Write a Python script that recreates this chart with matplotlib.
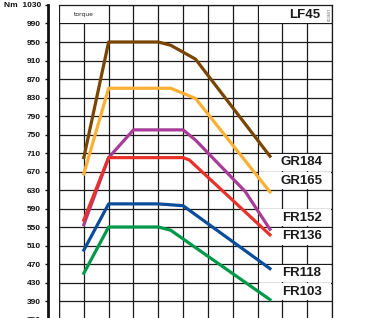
import matplotlib
matplotlib.use("Agg")
import matplotlib.pyplot as plt
from matplotlib.patches import Rectangle
import numpy as np

# engine speed (rpm) and torque (Nm)
rpm_gr184 = [800, 1000, 1400, 1500, 1700, 2300]
nm_gr184 = [700, 950, 950, 943, 913, 703]

rpm_gr165 = [800, 1000, 1500, 1700, 2300]
nm_gr165 = [665, 850, 850, 828, 626]

rpm_fr152 = [800, 1000, 1200, 1600, 1700, 2100, 2300]
nm_fr152 = [555, 700, 760, 760, 738, 627, 545]

rpm_fr136 = [800, 1000, 1600, 1650, 2300]
nm_fr136 = [565, 700, 700, 695, 533]

rpm_fr118 = [800, 1000, 1400, 1600, 2300]
nm_fr118 = [500, 600, 600, 596, 460]

rpm_fr103 = [800, 1000, 1400, 1500, 2300]
nm_fr103 = [450, 550, 550, 543, 393]

series = [
    ("GR184", rpm_gr184, nm_gr184, "#7a4500", 690),
    ("GR165", rpm_gr165, nm_gr165, "#fbb034", 650),
    ("FR152", rpm_fr152, nm_fr152, "#a83c98", 570),
    ("FR136", rpm_fr136, nm_fr136, "#e8312b", 530),
    ("FR118", rpm_fr118, nm_fr118, "#0a4d9c", 450),
    ("FR103", rpm_fr103, nm_fr103, "#00994a", 410),
]

y_ticks = list(range(350, 1031, 40))

fig = plt.figure(figsize=(3.87, 3.18), dpi=100)
ax = fig.add_axes([59 / 387, 0.98428 - 1.0472, 273 / 387, 1.0472])
ax.set_xlim(600, 2800)
ax.set_ylim(310, 1030)

# grid
ax.set_xticks(np.arange(600, 2801, 200))
ax.set_yticks(y_ticks)
ax.set_axisbelow(True)
ax.grid(True, color="#1a1a1a", linewidth=0.9)
ax.tick_params(axis="x", length=0, labelbottom=False)

# merged cells: hide some grid lines behind white boxes
ex, ey = 8, 1.6
cells = [(600, 990, 1030), (2200, 990, 1030), (2200, 670, 710), (2200, 630, 670),
         (2200, 550, 590), (2200, 510, 550), (2200, 430, 470), (2200, 390, 430)]
for x0, y0, y1 in cells:
    w = 400 if x0 == 600 else 600
    ax.add_patch(Rectangle((x0 + ex, y0 + ey), w - 2 * ex, y1 - y0 - 2 * ey,
                           facecolor="white", edgecolor="none", zorder=1))

for name, x, y, c, ylab in series:
    ax.plot(x, y, color=c, linewidth=2.3, zorder=3)
    ax.text(2556, ylab, name, ha="center", va="center", fontsize=9.5,
            fontweight="bold", family="Liberation Sans", color="#1a1a1a", zorder=4)

ax.text(800, 1010, "torque", ha="center", va="center", fontsize=4.3, color="#222222")
ax.text(2582, 1009, "LF45", ha="center", va="center", fontsize=9.5,
        fontweight="bold", family="Liberation Sans", color="#1a1a1a")
ax.text(2784, 1011, "000607", ha="center", va="center", fontsize=2.5,
        rotation=90, color="#555555")

# frame
for s in ["top", "right"]:
    ax.spines[s].set_color("#1a1a1a")
    ax.spines[s].set_linewidth(0.9)
ax.spines["bottom"].set_visible(False)
ax.axvline(600, color="#1a1a1a", linewidth=0.9, zorder=2)

# y axis offset to the left
ax.spines["left"].set_position(("outward", 8))
ax.spines["left"].set_linewidth(2.0)
ax.spines["left"].set_color("#111111")
ax.tick_params(axis="y", length=2.5, width=1.0, pad=2.5, labelsize=6, colors="#111111")
labels = [str(v) for v in y_ticks]
labels[-1] = "Nm  1030"
ax.set_yticklabels(labels, fontweight="bold", family="Liberation Sans")

fig.savefig("out.png", dpi=100)
